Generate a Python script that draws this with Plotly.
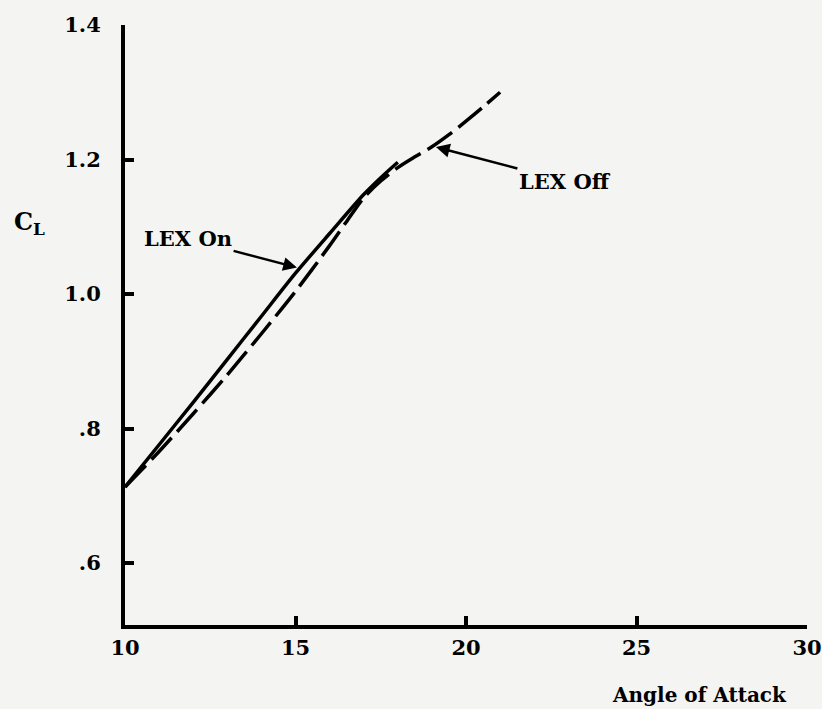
import plotly.graph_objects as go

# Data
lex_on_aoa = [10, 11, 12, 13, 14, 15, 16, 17, 17.5, 18]
lex_on_cl = [0.713, 0.776, 0.839, 0.903, 0.967, 1.031, 1.090, 1.148, 1.173, 1.196]

lex_off_aoa = [10, 11, 12, 13, 14, 15, 16, 16.5, 17, 17.5, 18, 18.5, 19, 19.5, 20, 20.5, 21]
lex_off_cl = [0.713, 0.766, 0.822, 0.880, 0.941, 1.004, 1.072, 1.108, 1.143, 1.168, 1.188,
              1.204, 1.219, 1.237, 1.257, 1.278, 1.300]

x_ticks = [10, 15, 20, 25, 30]
x_ticktext = ["10", "15", "20", "25", "30"]
y_ticks = [0.6, 0.8, 1.0, 1.2, 1.4]
y_ticktext = [".6", ".8", "1.0", "1.2", "1.4"]

FONT = "DejaVu Serif"
BG = "#f4f4f2"

fig = go.Figure()
fig.add_trace(go.Scatter(x=lex_on_aoa, y=lex_on_cl, mode="lines",
                         line=dict(color="black", width=3.5, shape="spline", smoothing=0.8),
                         showlegend=False, name="LEX On"))
fig.add_trace(go.Scatter(x=lex_off_aoa, y=lex_off_cl, mode="lines",
                         line=dict(color="black", width=3.5, dash="30px,8px",
                                   shape="spline", smoothing=0.8),
                         showlegend=False, name="LEX Off"))

fig.update_xaxes(range=[10, 30], tickvals=x_ticks, ticktext=x_ticktext, automargin=False,
                 showline=True, linecolor="black", linewidth=4, showgrid=False, zeroline=False,
                 ticks="inside", ticklen=9, tickwidth=3.5, tickcolor="black",
                 tickfont=dict(family=FONT, size=21, color="black", weight="bold"),
                 ticklabelstandoff=1)
fig.update_yaxes(range=[0.508, 1.4], tickvals=y_ticks, ticktext=y_ticktext, automargin=False,
                 showline=True, linecolor="black", linewidth=4, showgrid=False, zeroline=False,
                 ticks="inside", ticklen=9, tickwidth=3.5, tickcolor="black",
                 tickfont=dict(family=FONT, size=21, color="black", weight="bold"),
                 ticklabelstandoff=16)

annfont = dict(family=FONT, size=21, color="black", weight="bold")
fig.add_annotation(x=15.07, y=1.039, ax=11.85, ay=1.082, axref="x", ayref="y",
                   text="LEX On", showarrow=True, arrowhead=2, arrowsize=1.1, arrowwidth=2.5,
                   arrowcolor="black", font=annfont, standoff=1)
fig.add_annotation(x=19.09, y=1.219, ax=22.9, ay=1.168, axref="x", ayref="y",
                   text="LEX Off", showarrow=True, arrowhead=2, arrowsize=1.1, arrowwidth=2.5,
                   arrowcolor="black", font=annfont, standoff=1)
fig.add_annotation(xref="paper", yref="paper", x=-0.14, y=0.67, xanchor="center", yanchor="middle",
                   showarrow=False, text="C<sub>L</sub>",
                   font=dict(family=FONT, size=24, color="black", weight="bold"))
fig.add_annotation(xref="paper", yref="paper", x=0.974, y=-0.117, xanchor="right", yanchor="middle",
                   showarrow=False, text="Angle of Attack",
                   font=dict(family=FONT, size=20, color="black", weight="bold"))

fig.update_layout(width=822, height=709, margin=dict(l=125, r=15, t=25, b=84),
                  paper_bgcolor=BG, plot_bgcolor=BG)

fig.write_html("out.html", config={"displayModeBar": False},
               post_script="document.body.style.margin='0';document.body.style.background='%s';" % BG)
